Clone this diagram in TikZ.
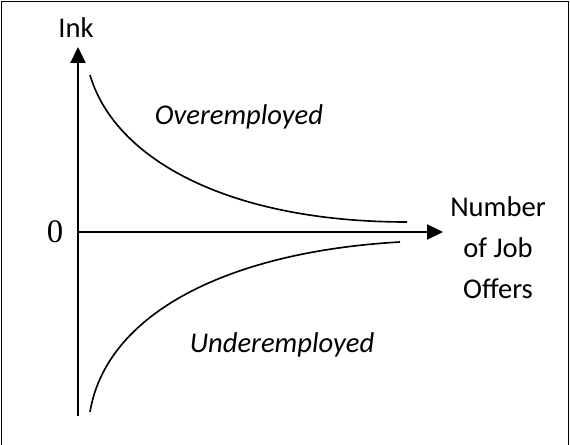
\documentclass[tikz,border=0pt]{standalone}
\usepackage{fontspec}
\setmainfont{Carlito}
\newfontfamily\zerofont{Liberation Serif}
\usetikzlibrary{arrows.meta, positioning}
\tikzset{
x=0.015cm, y=-0.015cm, % one unit is one pixel of the sketch
>={Triangle[length=6.8pt, width=6.4pt]}, % filled arrow heads
axis/.style={line width=0.85pt, ->}, % the two axes
curve/.style={line width=0.7pt}, % the two hyperbolas
lbl/.style={font=\fontsize{12.2}{17.5}\selectfont, inner sep=0pt}, % plain labels
region/.style={lbl, font=\fontsize{12.2}{17.5}\selectfont\itshape}, % labels of the two areas
}

\begin{document}
\begin{tikzpicture}
    \useasboundingbox (0,0) rectangle (570,445);
    \draw[line width=0.6pt] (1.5,445) -- (1.5,1.5) -- (568.5,1.5) -- (568.5,445);
    \coordinate (o) at (78,232);
    \coordinate (ybot) at (78,416);
    \coordinate (ytip) at (78,47);
    \coordinate (xtip) at (443,232);
    \node[lbl] (ink) at (76,28) {Ink};
    \node[lbl, align=center] (offers) at (498,248) {Number\\of Job\\Offers};
    \node[inner sep=0pt, font=\fontsize{14}{14}\selectfont] (zero) at (55,232) {\zerofont 0};
    \draw[axis] (ybot) -- (ytip);
    \draw[axis] (o) -- (xtip);
    \draw[curve] (90,75) .. controls (115,160) and (230,222) .. (407,222);
    \draw[curve] (90,412) .. controls (106,315) and (225,252) .. (400,242);
    \node[region] (over) at (239,117) {Overemployed};
    \node[region] (under) at (282,345) {Underemployed};
\end{tikzpicture}
\end{document}
